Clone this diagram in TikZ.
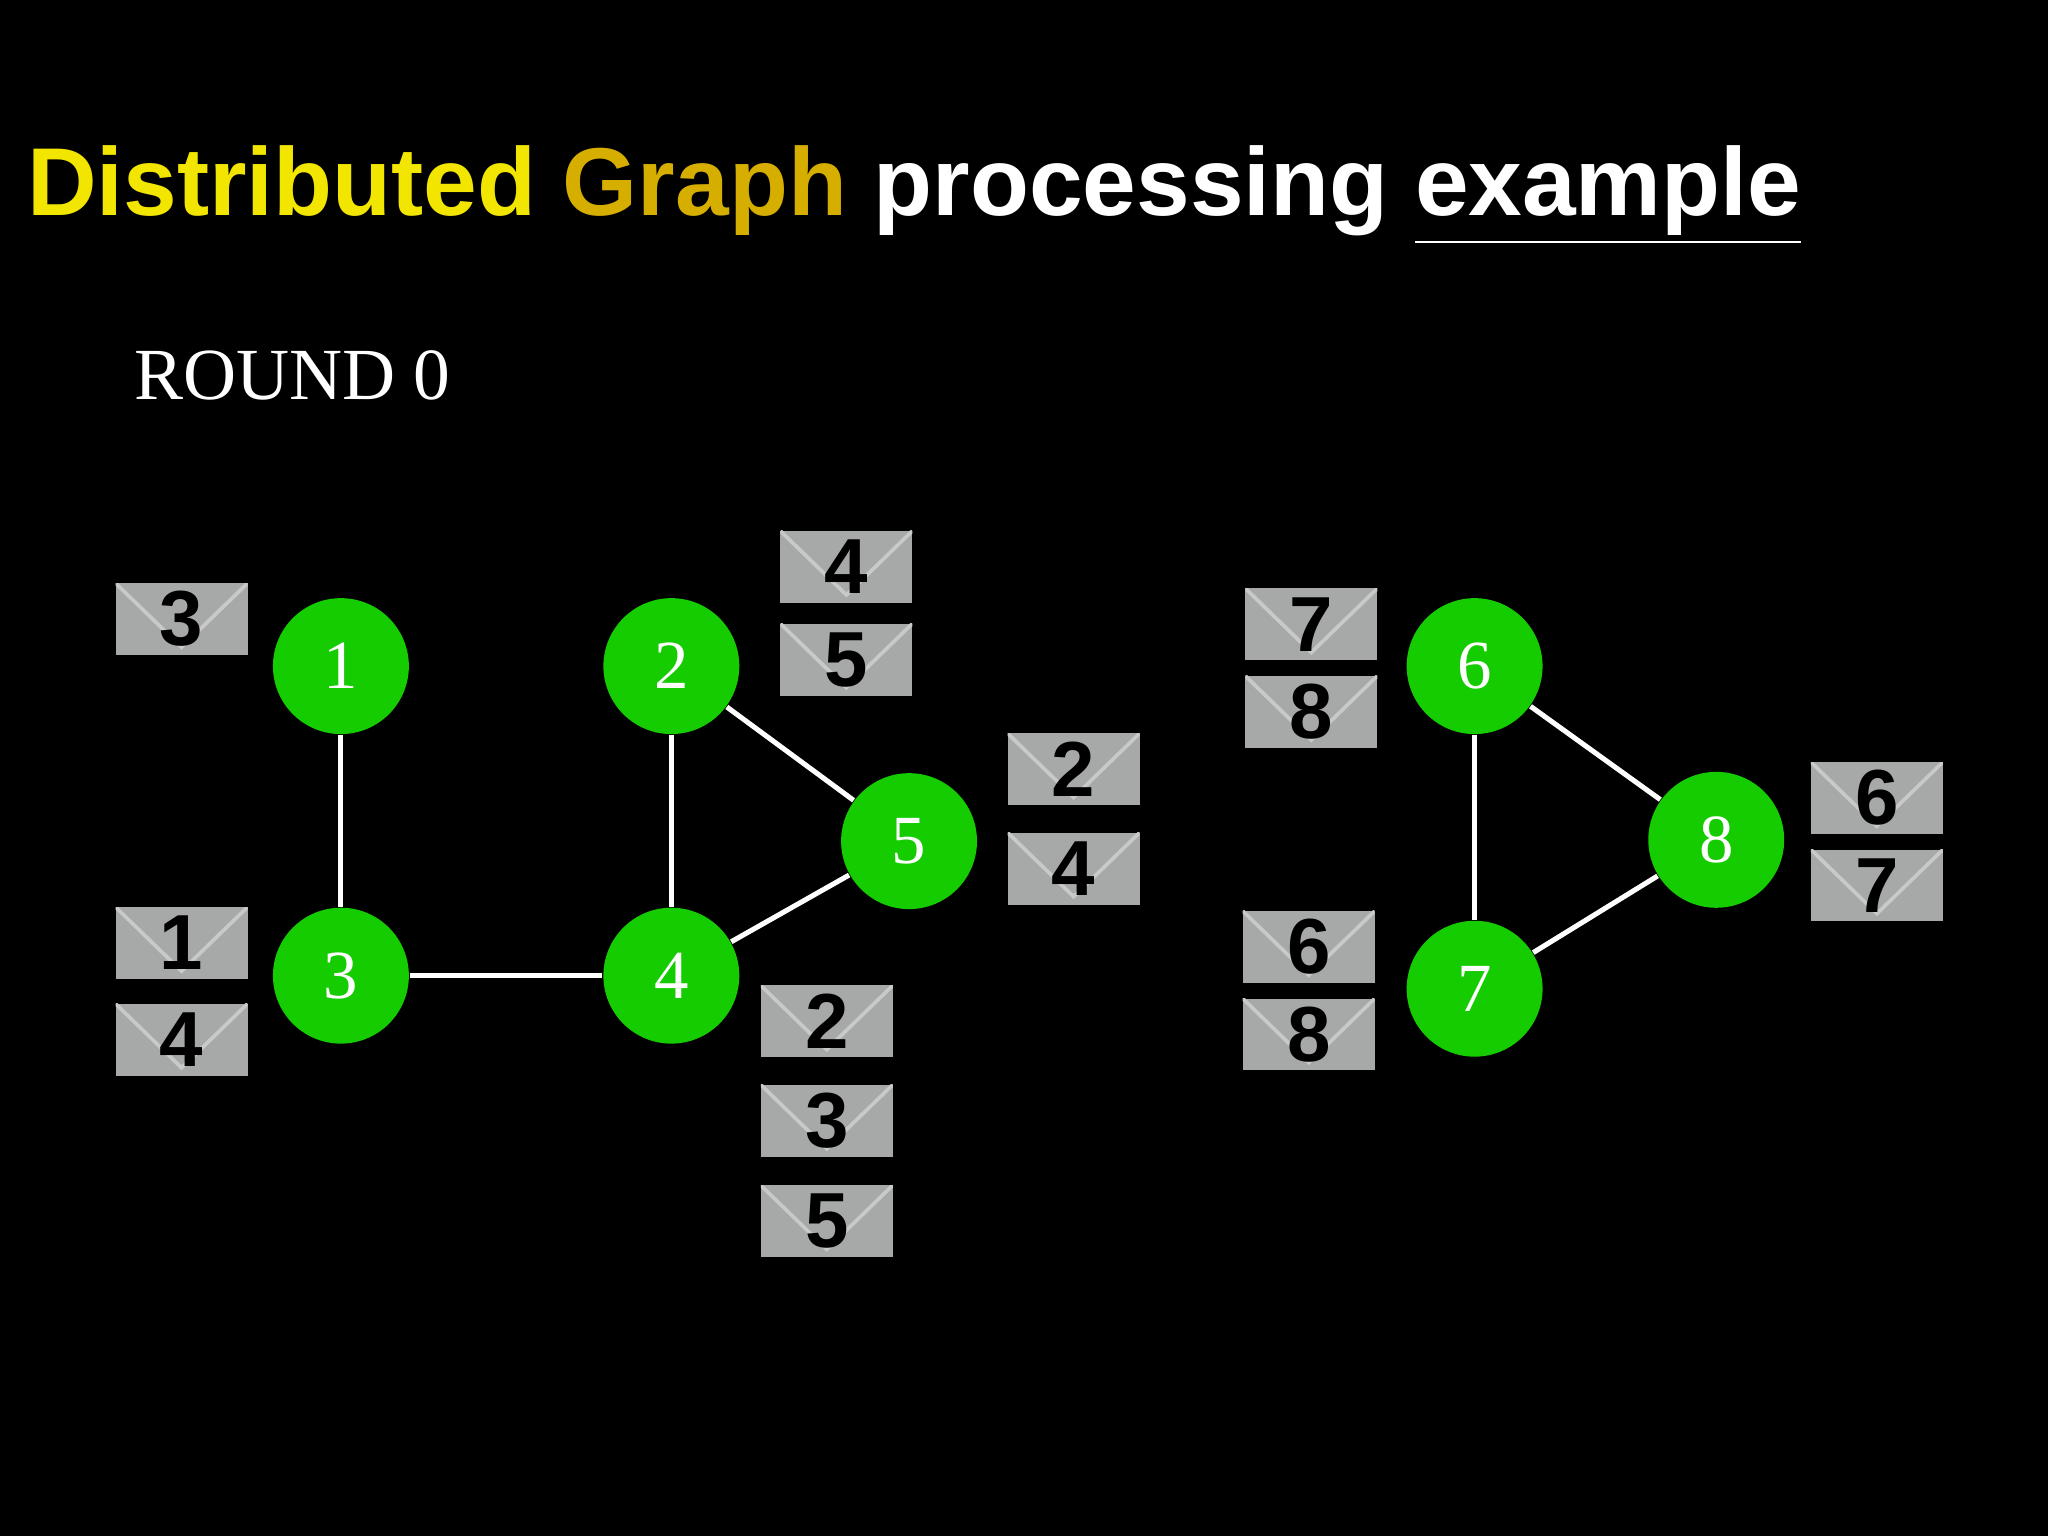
\documentclass[tikz,border=0pt]{standalone}
\usepackage{fontspec}
\setmainfont{Liberation Serif}
\newfontfamily\titlefont{Liberation Sans}
\definecolor{ngreen}{HTML}{14CC00}
\definecolor{envgray}{HTML}{A6A9A8}
\definecolor{flap}{HTML}{C8CAC9}
\definecolor{tyellow}{HTML}{F2E600}
\definecolor{tgold}{HTML}{D6AE00}
\tikzset{
  vert/.style={circle,fill=ngreen,minimum size=1.04cm,inner sep=0pt,text=white,font=\fontsize{15}{15}\selectfont},
  edge/.style={white,line width=1.1pt},
  env/.style={rectangle,fill=envgray,minimum width=1.01cm,minimum height=0.55cm,inner sep=0pt,
    path picture={\draw[flap,line width=0.8pt] (path picture bounding box.north west) -- ([yshift=0.06cm]path picture bounding box.south) -- (path picture bounding box.north east);},
    font=\titlefont\bfseries\fontsize{17}{17}\selectfont,text=black}
}
\begin{document}
\begin{tikzpicture}[x=0.01cm,y=-0.01cm]
\fill[black] (0,0) rectangle (1568,1176);
\node[anchor=base west,inner sep=0pt,font=\titlefont\bfseries\fontsize{21}{21}\selectfont] (title) at (20,165)
 {\textcolor{tyellow}{Distributed} \textcolor{tgold}{Graph} \textcolor{white}{processing \underline{example}}};
\node[anchor=base west,inner sep=0pt,text=white,font=\fontsize{16}{16}\selectfont] (round) at (102,306) {ROUND 0};
\node[vert] (n1) at (261,510) {1};
\node[vert] (n2) at (514,510) {2};
\node[vert] (n3) at (261,747) {3};
\node[vert] (n4) at (514,747) {4};
\node[vert] (n5) at (696,644) {5};
\node[vert] (n6) at (1129,510) {6};
\node[vert] (n7) at (1129,757) {7};
\node[vert] (n8) at (1314,643) {8};
\draw[edge] (n1) -- (n3);
\draw[edge] (n3) -- (n4);
\draw[edge] (n2) -- (n4);
\draw[edge] (n2) -- (n5);
\draw[edge] (n4) -- (n5);
\draw[edge] (n6) -- (n7);
\draw[edge] (n6) -- (n8);
\draw[edge] (n7) -- (n8);
\node[env] (e1) at (139,474) {3};
\node[env] (e2) at (139,722) {1};
\node[env] (e3) at (139,796) {4};
\node[env] (e4) at (648,434) {4};
\node[env] (e5) at (648,505) {5};
\node[env] (e6) at (822,589) {2};
\node[env] (e7) at (822,665) {4};
\node[env] (e8) at (633,782) {2};
\node[env] (e9) at (633,858) {3};
\node[env] (e10) at (633,935) {5};
\node[env] (e11) at (1004,478) {7};
\node[env] (e12) at (1004,545) {8};
\node[env] (e13) at (1002,725) {6};
\node[env] (e14) at (1002,792) {8};
\node[env] (e15) at (1437,611) {6};
\node[env] (e16) at (1437,678) {7};
\end{tikzpicture}
\end{document}
